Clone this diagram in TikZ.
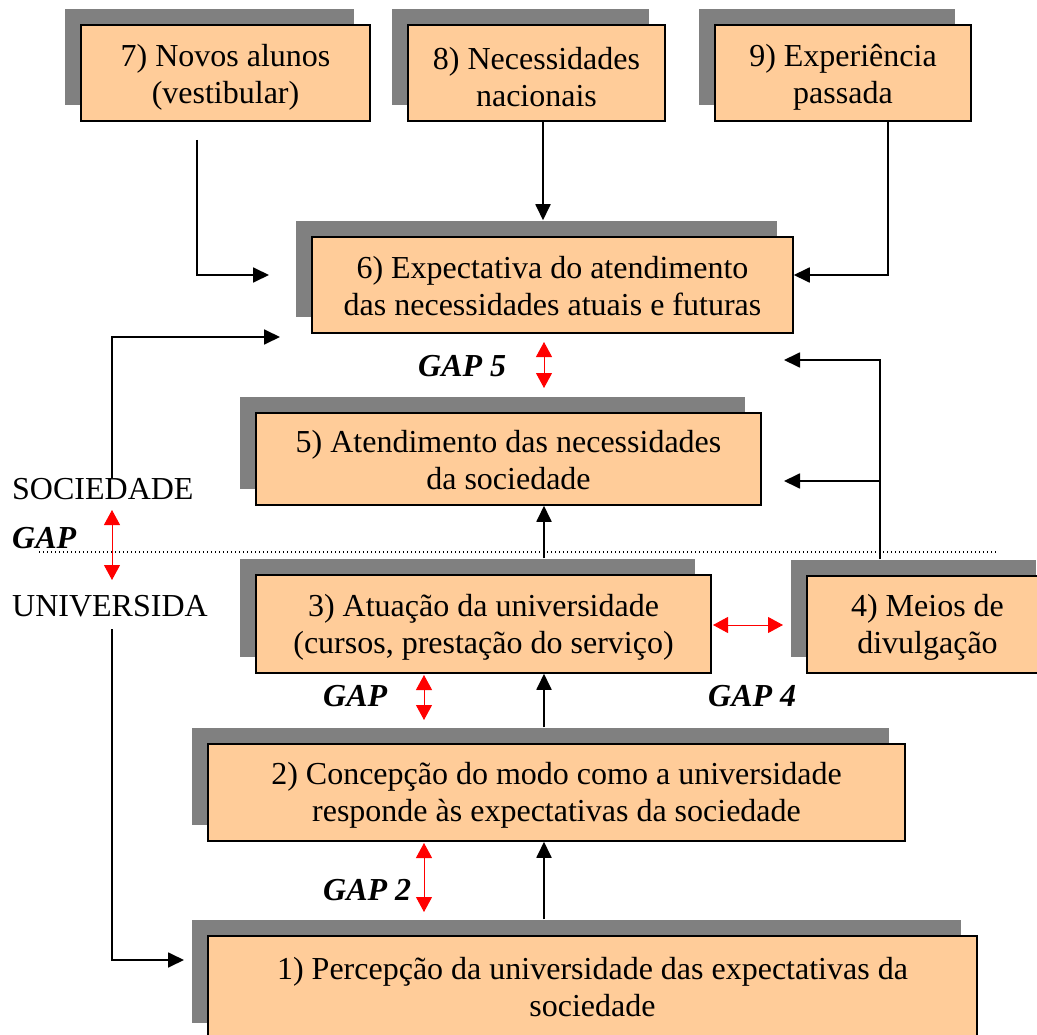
\documentclass[tikz,border=0pt]{standalone}
\usepackage{fontspec}
\setmainfont{Liberation Serif}
\usetikzlibrary{arrows.meta,shadows}
\definecolor{boxfill}{RGB}{255,204,153}
\definecolor{shadowgray}{RGB}{128,128,128}
\begin{document}
\begin{tikzpicture}[x=1pt,y=-1pt,
 box/.style={draw=black, line width=1.5pt, fill=boxfill, inner sep=0pt,
   general shadow={fill=shadowgray, shadow xshift=-16pt, shadow yshift=16pt}},
 txt/.style={inner sep=0pt, align=center, font=\fontsize{32}{37}\selectfont},
 arr/.style={line width=1.8pt, -{Triangle[length=16pt,width=15pt]}},
 gaparr/.style={draw=red, line width=1pt, {Triangle[length=15pt,width=16pt]}-{Triangle[length=15pt,width=16pt]}},
 lbl/.style={anchor=base west, inner sep=0pt, font=\fontsize{32}{37}\selectfont},
 gaplbl/.style={anchor=base west, inner sep=0pt, font=\fontsize{32}{37}\selectfont\bfseries\itshape},
 sep/.style={line width=1.2pt, dash pattern=on 1.2pt off 2.8pt}]
\useasboundingbox (0,0) rectangle (1037,1035);

% boxes
\node[box, minimum width=289pt, minimum height=96pt] (n7) at (225.5,73) {};
\node[txt] (n7t) at ([yshift=-4pt]n7.center) {7) Novos alunos\\(vestibular)};
\node[box, minimum width=257pt, minimum height=96pt] (n8) at (536.5,73) {};
\node[txt] (n8t) at ([yshift=-4pt]n8.center) {8) Necessidades\\nacionais};
\node[box, minimum width=256pt, minimum height=96pt] (n9) at (843,73) {};
\node[txt] (n9t) at ([yshift=-4pt]n9.center) {9) Experiência\\passada};
\node[box, minimum width=481pt, minimum height=96pt] (n6) at (552.5,285) {};
\node[txt] (n6t) at ([yshift=-1pt]n6.center) {6) Expectativa do atendimento\\das necessidades atuais e futuras};
\node[box, minimum width=505pt, minimum height=92pt] (n5) at (508.5,459) {};
\node[txt] (n5t) at ([yshift=-1pt]n5.center) {5) Atendimento das necessidades\\da sociedade};
\node[box, minimum width=455pt, minimum height=98pt] (n3) at (483.5,624) {};
\node[txt] (n3t) at ([yshift=-3pt]n3.center) {3) Atuação da universidade\\(cursos, prestação do serviço)};
\node[box, minimum width=245pt, minimum height=97pt] (n4) at (929.5,624.5) {};
\node[txt] (n4t) at ([yshift=-3pt, xshift=-2pt]n4.center) {4) Meios de\\divulgação};
\node[box, minimum width=697pt, minimum height=97pt] (n2) at (556.5,792.5) {};
\node[txt] (n2t) at ([yshift=-3pt]n2.center) {2) Concepção do modo como a universidade\\responde às expectativas da sociedade};
\node[box, minimum width=769pt, minimum height=103pt] (n1) at (592.5,987.5) {};
\node[txt] (n1t) at ([yshift=0pt]n1.center) {1) Percepção da universidade das expectativas da\\sociedade};

% dotted separator
\coordinate (d1) at (39,552);
\coordinate (d2) at (997,552);
\draw[sep] (d1) -- (d2);

% side labels
\node[lbl] (soc) at (12,499) {SOCIEDADE};
\node[gaplbl] (gap1) at (12,548) {GAP};
\node[lbl] (uni) at (12,616) {UNIVERSIDA};
\node[gaplbl] (gap5) at (418,377) {GAP 5};
\node[gaplbl] (gap3) at (323,706) {GAP};
\node[gaplbl] (gap4) at (708,706) {GAP 4};
\node[gaplbl] (gap2) at (323,900) {GAP 2};

% helper coordinates
\coordinate (x7) at (197,140);
\coordinate (t7) at (269,275);
\coordinate (x8) at (543,0);
\coordinate (x9) at (888,0);
\coordinate (y9) at (0,275);
\coordinate (xc) at (544,0);
\coordinate (x4) at (880,0);
\coordinate (t4a) at (784,360);
\coordinate (t4b) at (784,481);
\coordinate (xl) at (112,0);
\coordinate (tl) at (280,337);
\coordinate (u0) at (112,629);
\coordinate (tu) at (184,960);

% black connectors
\draw[arr] (x7) |- (t7);
\draw[arr] (n8.south -| x8) -- ([yshift=16pt]n6.north -| x8);
\draw[arr] (n9.south -| x9) |- (n6.east |- y9);
\draw[arr] (soc.north -| xl) |- (tl);
\draw[arr] (u0) |- (tu);
\draw[arr] ([yshift=16pt]n4.north -| x4) |- (t4a);
\draw[arr] (x4 |- t4b) -- (t4b);
\draw[arr] ([yshift=16pt]n3.north -| xc) -- (n5.south -| xc);
\draw[arr] ([yshift=16pt]n2.north -| xc) -- (n3.south -| xc);
\draw[arr] ([yshift=16pt]n1.north -| xc) -- (n2.south -| xc);

% red gap arrows
\coordinate (g5a) at (544,342);
\coordinate (g5b) at (544,388);
\coordinate (g1a) at (112,510);
\coordinate (g1b) at (112,580);
\coordinate (g3a) at (424,675);
\coordinate (g3b) at (424,720);
\coordinate (g2a) at (424,843);
\coordinate (g2b) at (424,912);
\coordinate (g4a) at (713,625);
\coordinate (g4b) at (783,625);
\draw[gaparr] (g5a) -- (g5b);
\draw[gaparr] (g1a) -- (g1b);
\draw[gaparr] (g3a) -- (g3b);
\draw[gaparr] (g2a) -- (g2b);
\draw[gaparr] (g4a) -- (g4b);
\end{tikzpicture}
\end{document}
